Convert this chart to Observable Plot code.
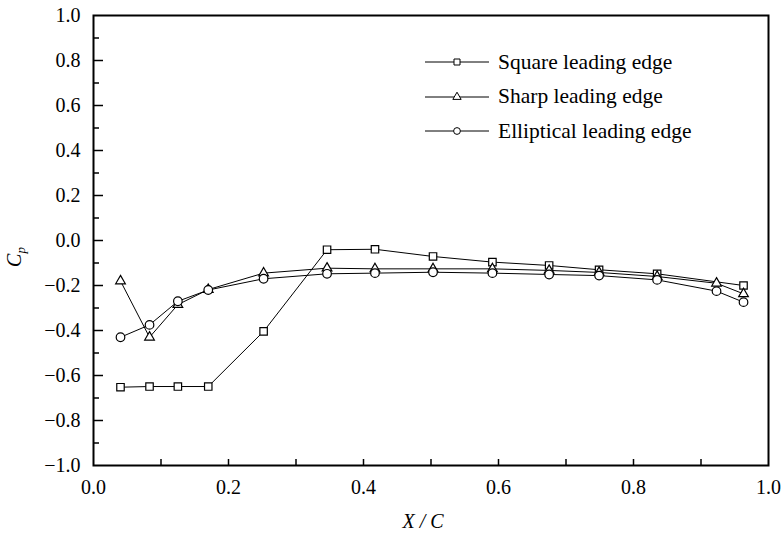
<!DOCTYPE html>
<html><head><meta charset="utf-8">
<script src="https://cdn.jsdelivr.net/npm/d3@7"></script>
<script src="https://cdn.jsdelivr.net/npm/@observablehq/plot@0.6"></script>
<style>
body{margin:0;background:#fff;}
#wrap{position:relative;width:784px;height:546px;font-family:"Liberation Serif","Times New Roman",serif;color:#000;}
.legend{position:absolute;left:425px;top:45px;font-size:21.5px;}
.row{display:flex;align-items:center;height:34.5px;white-space:nowrap;}
.row svg{margin-right:9px;display:block;}
</style></head><body><div id="wrap"></div>
<script>
// X/C positions of pressure taps
const xPos = [0.040, 0.083, 0.125, 0.170, 0.252, 0.346, 0.417, 0.503, 0.591, 0.675, 0.749, 0.835, 0.923, 0.963];
// Cp values per leading-edge shape (null = no marker visible)
const squareCp     = [-0.652, -0.649, -0.649, -0.649, -0.404, -0.041, -0.039, -0.071, -0.096, -0.111, -0.130, -0.148, null, -0.200];
const sharpCp      = [-0.180, -0.430, -0.285, -0.218, -0.145, -0.123, -0.126, -0.126, -0.126, -0.133, -0.142, -0.160, -0.190, -0.237];
const ellipticalCp = [-0.430, -0.375, -0.270, -0.220, -0.170, -0.148, -0.145, -0.141, -0.145, -0.151, -0.156, -0.175, -0.225, -0.274];
const seriesNames = ["Square leading edge", "Sharp leading edge", "Elliptical leading edge"];
const seriesSymbols = ["square", "triangle", "circle"];
const xTickValues = [0.0, 0.2, 0.4, 0.6, 0.8, 1.0];
const xMinorTicks = [0.1, 0.2, 0.3, 0.4, 0.5, 0.6, 0.7, 0.8, 0.9];
const yTickValues = [-1.0, -0.8, -0.6, -0.4, -0.2, 0.0, 0.2, 0.4, 0.6, 0.8, 1.0];
const yMinorTicks = [-0.9, -0.7, -0.5, -0.3, -0.1, 0.1, 0.3, 0.5, 0.7, 0.9];
const yMajorTicks = [-0.8, -0.6, -0.4, -0.2, 0.0, 0.2, 0.4, 0.6, 0.8];

const W = 784, H = 546, mL = 93, mR = 16, mT = 15, mB = 81;
const plotW = W - mL - mR, plotH = H - mT - mB;
const FONT = "'Liberation Serif', 'Times New Roman', serif";

const allSeries = [squareCp, sharpCp, ellipticalCp];
const data = [];
seriesNames.forEach((name, i) => {
  xPos.forEach((x, j) => {
    const v = allSeries[i][j];
    if (v != null) data.push({series: name, x, cp: v});
  });
});
const markerR = {"Square leading edge": 4.2, "Sharp leading edge": 3.6, "Elliptical leading edge": 4.3};

const fmt = d3.format(".1f");
const chart = Plot.plot({
  width: W, height: H,
  marginLeft: mL, marginRight: mR, marginTop: mT, marginBottom: mB,
  style: {fontFamily: FONT, fontSize: "20px", color: "#000", background: "#fff"},
  x: {domain: [0, 1]},
  y: {domain: [-1, 1]},
  symbol: {domain: seriesNames, range: seriesSymbols},
  marks: [
    Plot.tickX(xMinorTicks, {x: d => d, insetTop: plotH - 6, stroke: "#000", strokeWidth: 1.5}),
    Plot.tickY(yMinorTicks, {y: d => d, insetRight: plotW - 6, stroke: "#000", strokeWidth: 1.5}),
    Plot.tickY(yMajorTicks, {y: d => d, insetRight: plotW - 10, stroke: "#000", strokeWidth: 1.5}),
    Plot.axisX({ticks: xTickValues, tickSize: 0, tickPadding: 14, tickFormat: fmt, label: null, fill: "#000", fontSize: 20}),
    Plot.axisY({ticks: yTickValues, tickSize: 0, tickPadding: 13, tickFormat: fmt, label: null, fill: "#000", fontSize: 20}),
    Plot.line(data, {x: "x", y: "cp", z: "series", stroke: "#000", strokeWidth: 1}),
    ...seriesNames.map(name =>
      Plot.dot(data.filter(d => d.series === name), {x: "x", y: "cp", symbol: "series", r: markerR[name], stroke: "#000", fill: "#fff", strokeWidth: 1.2})
    ),
    Plot.frame({stroke: "#000", strokeWidth: 2})
  ]
});

const wrap = document.getElementById("wrap");
wrap.appendChild(chart);

const svg = d3.select(chart);

// axis titles
const yl = svg.append("text")
  .attr("transform", "translate(21,257) rotate(-90)")
  .attr("text-anchor", "middle")
  .style("font-size", "20px")
  .style("font-family", FONT)
  .attr("font-style", "italic")
  .attr("fill", "#000");
yl.append("tspan").text("C");
yl.append("tspan").style("font-size", "13px").attr("dy", 4).text("p");

svg.append("text")
  .attr("x", 423).attr("y", 528)
  .attr("text-anchor", "middle")
  .style("font-size", "20px")
  .style("font-family", FONT)
  .attr("font-style", "italic")
  .attr("fill", "#000")
  .text("X / C");

// legend
const legend = d3.select(wrap).append("div").attr("class", "legend");
seriesNames.forEach((name, i) => {
  const row = legend.append("div").attr("class", "row");
  const s = row.append("svg").attr("width", 64).attr("height", 14);
  s.append("line").attr("x1", 0).attr("x2", 64).attr("y1", 7).attr("y2", 7).attr("stroke", "#000").attr("stroke-width", 1);
  const sym = {square: d3.symbolSquare, triangle: d3.symbolTriangle, circle: d3.symbolCircle}[seriesSymbols[i]];
  const size = {square: 36, triangle: 30, circle: 36}[seriesSymbols[i]];
  s.append("path").attr("transform", "translate(32,7)").attr("d", d3.symbol(sym, size)())
    .attr("fill", "#fff").attr("stroke", "#000").attr("stroke-width", 1);
  row.append("span").text(name);
});
</script>
</body></html>
